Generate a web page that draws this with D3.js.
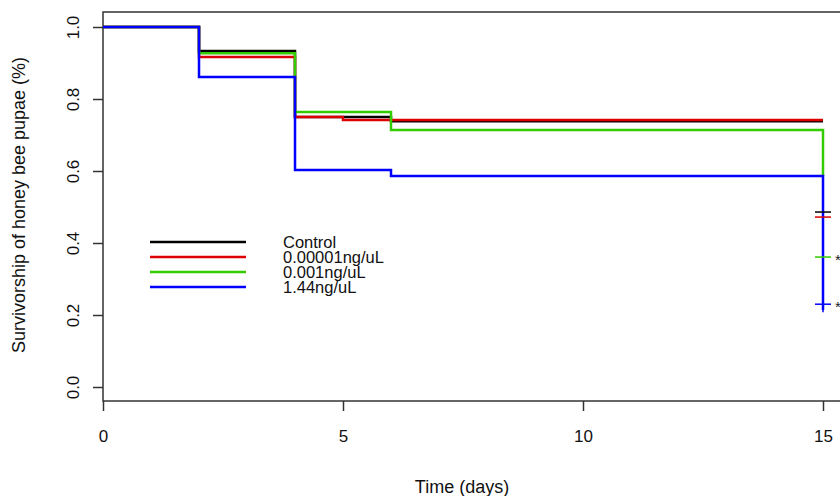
<!DOCTYPE html>
<html><head><meta charset="utf-8">
<script src="https://cdn.jsdelivr.net/npm/d3@7"></script>
<style>body{margin:0;background:#fff}text{font-family:"Liberation Sans",Arial,sans-serif}</style>
</head><body><svg id="chart" width="840" height="496"></svg>
<script>
// step curves: times and survival values
var seriesNames = ["Control","0.00001ng/uL","0.001ng/uL","1.44ng/uL"];
var seriesColors = ["#000000","#dd0000","#33cc00","#0000ff"];
var controlSteps = [[0,1],[2,0.933],[4,0.75],[6,0.738],[15,0.738]];
var lowSteps = [[0,1],[2,0.917],[4,0.75],[5,0.742],[15,0.742]];
var midSteps = [[0,1],[2,0.927],[4,0.764],[6,0.714],[15,0.714],[15,0.586]];
var highSteps = [[0,1],[2,0.861],[4,0.603],[6,0.586],[15,0.586],[15,0.214]];
var censorMarks = [0.486,0.472,0.361,0.23];
var starred = [false,false,true,true];
var xTicks = [0,5,10,15];
var yTicks = [0,0.2,0.4,0.6,0.8,1.0];

var svg = d3.select('#chart');
var x = d3.scaleLinear().domain([0,15]).range([103,823]);
var y = d3.scaleLinear().domain([0,1]).range([387,27]);

// box
svg.append('rect').attr('x',103).attr('y',12).attr('width',760).attr('height',389)
   .attr('fill','none').attr('stroke','#333').attr('stroke-width',1.5);

var xa = svg.append('g').attr('transform','translate(0,401)')
   .call(d3.axisBottom(x).tickValues(xTicks).tickSize(10).tickPadding(19).tickFormat(d3.format('d')));
var ya = svg.append('g').attr('transform','translate(103,0)')
   .call(d3.axisLeft(y).tickValues(yTicks).tickSize(10).tickFormat(d3.format('.1f')));
[xa,ya].forEach(function(a){
	a.select('.domain').remove();
	a.selectAll('line').attr('stroke','#333').attr('stroke-width',1.5);
	a.selectAll('text').attr('font-size',17).attr('fill','#111');
});
ya.selectAll('text').attr('text-anchor','middle').attr('x',0).attr('y',0).attr('dy',0)
  .attr('transform','translate(-24,0) rotate(-90)');

var line = d3.line().x(function(d){return x(d[0]);}).y(function(d){return y(d[1]);}).curve(d3.curveStepAfter);
[controlSteps,lowSteps,midSteps,highSteps].forEach(function(s,i){
	svg.append('path').attr('d',line(s)).attr('fill','none')
	   .attr('stroke',seriesColors[i]).attr('stroke-width',2.5);
});
censorMarks.forEach(function(v,i){
	svg.append('line').attr('x1',x(15)-8).attr('x2',x(15)+8).attr('y1',y(v)).attr('y2',y(v))
	   .attr('stroke',seriesColors[i]).attr('stroke-width',1.5);
	if(starred[i]) svg.append('text').attr('x',x(15)+12).attr('y',y(v)+8)
	   .attr('font-size',15).attr('fill','#222').text('*');
});
svg.append('line').attr('x1',x(15)).attr('x2',x(15)).attr('y1',y(0.23)-8).attr('y2',y(0.23)+8)
   .attr('stroke',seriesColors[3]).attr('stroke-width',1.5);

// legend
seriesNames.forEach(function(n,i){
	var ly = 242 + i*15;
	svg.append('line').attr('x1',150).attr('x2',246).attr('y1',ly).attr('y2',ly)
	   .attr('stroke',seriesColors[i]).attr('stroke-width',2.5);
	svg.append('text').attr('x',283).attr('y',ly+6).attr('font-size',16.5).attr('fill','#111').text(n);
});

svg.append('text').attr('x',462).attr('y',493).attr('text-anchor','middle')
   .attr('font-size',18).attr('fill','#111').text('Time (days)');
svg.append('text').attr('transform','translate(25,205) rotate(-90)').attr('text-anchor','middle')
   .attr('font-size',18).attr('fill','#111').text('Survivorship of honey bee pupae (%)');
</script></body></html>
